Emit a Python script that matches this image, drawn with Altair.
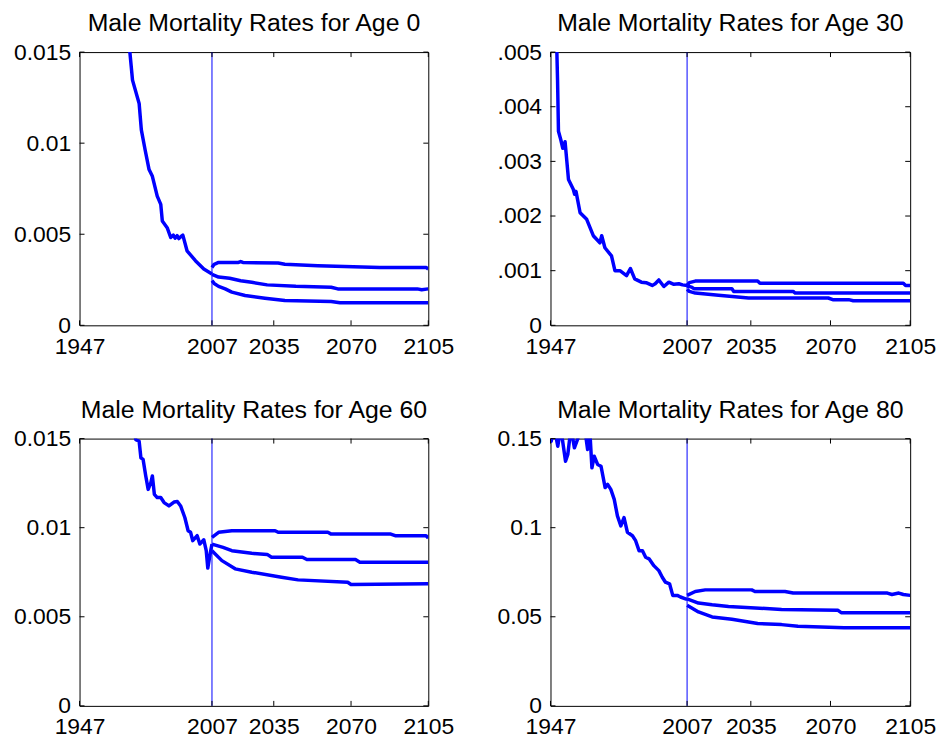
import altair as alt
import pandas as pd

FONT = "Liberation Sans"
BLUE = "#0000ff"

X_TICKS = [1947, 2007, 2035, 2070, 2105]
CUT_YEAR = [2007]

# ---------------- Age 0 ----------------
A0_TITLE = "Male Mortality Rates for Age 0"
A0_Y_TICKS = [0, 0.005, 0.01, 0.015]
A0_Y_LABELS = ["0", "0.005", "0.01", "0.015"]
A0_HIST_YEAR = [1969.0, 1969.8, 1971.0, 1974.0, 1975.0, 1976.7, 1978.5, 1980.0, 1982.2, 1983.8,
                1984.5, 1986.7, 1988.3, 1989.5, 1990.3, 1991.2, 1992.0, 1993.0, 1993.8, 1995.7,
                1999.5, 2003.3, 2007.0]
A0_HIST_RATE = [0.0160, 0.0150, 0.01346, 0.01218, 0.01073, 0.00964, 0.00855, 0.00818, 0.00709, 0.00664,
                0.00573, 0.00536, 0.00482, 0.00495, 0.00478, 0.00492, 0.00476, 0.00488, 0.00495, 0.00409,
                0.00355, 0.00309, 0.00282]
A0_UP_YEAR = [2007, 2008, 2010, 2019, 2020, 2021, 2037, 2040, 2055, 2083, 2104, 2105]
A0_UP_RATE = [0.00318, 0.00335, 0.00345, 0.00345, 0.00350, 0.00345, 0.00342, 0.00335, 0.00327, 0.00318, 0.00318, 0.00309]
A0_MED_YEAR = [2007, 2010, 2015, 2020, 2025, 2032, 2045, 2061, 2064, 2100, 2102, 2105]
A0_MED_RATE = [0.00280, 0.00265, 0.00258, 0.00245, 0.00236, 0.00222, 0.00214, 0.00209, 0.00200, 0.00200, 0.00195, 0.00200]
A0_LOW_YEAR = [2007, 2008, 2010, 2013, 2016, 2022, 2031, 2040, 2061, 2065, 2105]
A0_LOW_RATE = [0.00245, 0.00230, 0.00214, 0.00200, 0.00182, 0.00164, 0.00149, 0.00136, 0.00131, 0.00124, 0.00124]

# ---------------- Age 30 ----------------
A30_TITLE = "Male Mortality Rates for Age 30"
A30_Y_TICKS = [0, 0.001, 0.002, 0.003, 0.004, 0.005]
A30_Y_LABELS = ["0", ".001", ".002", ".003", ".004", ".005"]
A30_HIST_YEAR = [1949.0, 1949.8, 1950.1, 1950.5, 1951.5, 1952.4, 1953.0, 1953.4, 1954.9, 1957.0,
                 1957.6, 1958.2, 1960.0, 1962.9, 1965.8, 1968.7, 1969.5, 1970.9, 1973.8, 1975.3,
                 1977.5, 1980.4, 1982.1, 1984.0, 1986.9, 1989.0, 1991.7, 1993.0, 1994.6, 1996.8,
                 1999.0, 2001.2, 2003.4, 2005.0, 2007.0]
A30_HIST_RATE = [0.0090, 0.0050, 0.00449, 0.00355, 0.00340, 0.00324, 0.00330, 0.00336, 0.00267, 0.00249,
                 0.00240, 0.00245, 0.00206, 0.00194, 0.00164, 0.00151, 0.00164, 0.00142, 0.00127, 0.00100,
                 0.00100, 0.00091, 0.00104, 0.00085, 0.00079, 0.00078, 0.00073, 0.00076, 0.00083, 0.00071,
                 0.00079, 0.00075, 0.00076, 0.00074, 0.00073]
A30_UP_YEAR = [2007, 2008, 2010.6, 2038, 2039, 2102, 2103, 2105]
A30_UP_RATE = [0.00073, 0.00078, 0.00081, 0.00081, 0.00077, 0.00077, 0.00073, 0.00073]
A30_MED_YEAR = [2007, 2009, 2010, 2026.7, 2027.5, 2053.6, 2054.5, 2105]
A30_MED_RATE = [0.00072, 0.00070, 0.00067, 0.00067, 0.00062, 0.00062, 0.00059, 0.00059]
A30_LOW_YEAR = [2007, 2008, 2010.6, 2020.8, 2034, 2069, 2071, 2078, 2080, 2105]
A30_LOW_RATE = [0.00066, 0.00062, 0.00059, 0.00055, 0.00050, 0.00050, 0.00047, 0.00047, 0.00045, 0.00045]

# ---------------- Age 60 ----------------
A60_TITLE = "Male Mortality Rates for Age 60"
A60_Y_TICKS = [0, 0.005, 0.01, 0.015]
A60_Y_LABELS = ["0", "0.005", "0.01", "0.015"]
A60_HIST_YEAR = [1971.5, 1972.5, 1974.0, 1974.8, 1975.8, 1977.0, 1978.1, 1979.3, 1980.0, 1980.9,
                 1982.2, 1983.8, 1985.3, 1987.5, 1989.8, 1991.3, 1992.8, 1994.7, 1996.2, 1997.3,
                 1998.3, 2000.3, 2001.5, 2003.3, 2004.4, 2005.1, 2006.3, 2007.0]
A60_HIST_RATE = [0.0156, 0.01494, 0.01485, 0.01392, 0.01383, 0.01290, 0.01215, 0.01253, 0.01290, 0.01187,
                 0.01169, 0.01169, 0.01141, 0.01122, 0.01144, 0.01147, 0.01122, 0.01057, 0.00983, 0.00974,
                 0.00927, 0.00955, 0.00908, 0.00932, 0.00871, 0.00773, 0.00862, 0.00908]
A60_UP_YEAR = [2007, 2010, 2016, 2035.6, 2037, 2059.5, 2061, 2088, 2090, 2104, 2105]
A60_UP_RATE = [0.00946, 0.00974, 0.00983, 0.00983, 0.00974, 0.00974, 0.00964, 0.00964, 0.00955, 0.00955, 0.00942]
A60_MED_YEAR = [2007, 2012, 2016, 2025, 2032, 2034, 2048, 2050, 2072, 2074, 2105]
A60_MED_RATE = [0.00908, 0.00889, 0.00871, 0.00856, 0.00850, 0.00834, 0.00834, 0.00821, 0.00821, 0.00806, 0.00806]
A60_LOW_YEAR = [2007, 2011.5, 2017.5, 2025, 2038.5, 2046, 2068.5, 2070, 2105]
A60_LOW_RATE = [0.00871, 0.00815, 0.00769, 0.00750, 0.00722, 0.00707, 0.00694, 0.00681, 0.00685]

# ---------------- Age 80 ----------------
A80_TITLE = "Male Mortality Rates for Age 80"
A80_Y_TICKS = [0, 0.05, 0.1, 0.15]
A80_Y_LABELS = ["0", "0.05", "0.1", "0.15"]
A80_HIST_YEAR = [1947.0, 1947.3, 1948.7, 1950.2, 1951.5, 1953.6, 1954.6, 1956.0, 1957.5, 1959.0,
                 1960.5, 1962.0, 1963.3, 1964.2, 1965.2, 1966.2, 1967.7, 1969.2, 1971.0, 1972.1,
                 1973.5, 1975.0, 1976.4, 1977.9, 1979.3, 1980.8, 1983.0, 1984.4, 1985.9, 1987.4,
                 1988.8, 1990.3, 1992.4, 1994.6, 1996.1, 1997.5, 1999.3, 2000.7, 2002.7, 2004.1,
                 2006.3, 2007.0]
A80_HIST_RATE = [0.150, 0.1485, 0.156, 0.1457, 0.156, 0.1373, 0.1411, 0.156, 0.1448, 0.150,
                 0.156, 0.156, 0.1439, 0.156, 0.1336, 0.1401, 0.1355, 0.1345, 0.1225, 0.1243,
                 0.1215, 0.1159, 0.1066, 0.1010, 0.1057, 0.0974, 0.0955, 0.0927, 0.0871, 0.0871,
                 0.0834, 0.0825, 0.0787, 0.0759, 0.0722, 0.0694, 0.0685, 0.0620, 0.0620, 0.0611,
                 0.0601, 0.0598]
A80_UP_YEAR = [2007, 2010.6, 2015, 2035.4, 2036.8, 2050, 2053.6, 2095, 2097, 2100, 2102, 2105]
A80_UP_RATE = [0.0620, 0.0642, 0.0651, 0.0651, 0.0642, 0.0642, 0.0633, 0.0633, 0.0625, 0.0633, 0.0625, 0.0620]
A80_MED_YEAR = [2007, 2012, 2018, 2025.2, 2048.5, 2073.3, 2074.7, 2105]
A80_MED_RATE = [0.0601, 0.0577, 0.0567, 0.0558, 0.0541, 0.0536, 0.0523, 0.0523]
A80_LOW_YEAR = [2007, 2012, 2018, 2026.7, 2038, 2048.5, 2055.7, 2076, 2105]
A80_LOW_RATE = [0.0564, 0.0527, 0.0499, 0.0486, 0.0462, 0.0456, 0.0447, 0.0438, 0.0438]


def label_expr(values, labels):
    # map each tick value (by its index) to the text that the reference shows
    idx = "indexof([" + ",".join(str(v) for v in values) + "], datum.value)"
    arr = "[" + ",".join("'" + s + "'" for s in labels) + "]"
    return f"{arr}[{idx}]"


def panel(title, hist, up, med, low, ymax, yticks, ylabels, w, h):
    rows = []
    for name, (yrs, vals) in [("hist", hist), ("upper", up), ("median", med), ("lower", low)]:
        for yr, v in zip(yrs, vals):
            rows.append({"series": name, "year": yr, "rate": v})
    df = pd.DataFrame(rows)

    xs = alt.Scale(domain=[X_TICKS[0], X_TICKS[-1]], nice=False, zero=False)
    ys = alt.Scale(domain=[0, ymax], nice=False, zero=False)

    xaxis = alt.Axis(values=X_TICKS, format="d",
                     ticks=False, domain=False, grid=False, labelFlush=False,
                     labelOverlap=False, labelPadding=10, labelFontSize=23, labelFont=FONT,
                     labelColor="black", title=None)
    yaxis = alt.Axis(values=yticks, labelExpr=label_expr(yticks, ylabels),
                     ticks=False, domain=False, grid=False, labelFlush=False,
                     labelOverlap=False, labelPadding=9, labelFontSize=23, labelFont=FONT,
                     labelColor="black", title=None)

    cut = alt.Chart(pd.DataFrame({"year": CUT_YEAR})).mark_rule(
        color=BLUE, strokeWidth=1).encode(x=alt.X("year:Q", scale=xs, axis=xaxis))

    lines = alt.Chart(df).mark_line(color=BLUE, strokeWidth=3.5, clip=True,
                                    strokeJoin="round").encode(
        x=alt.X("year:Q", scale=xs, axis=xaxis),
        y=alt.Y("rate:Q", scale=ys, axis=yaxis),
        detail="series:N",
    )

    ydf = pd.DataFrame({"rate": yticks})
    xdf = pd.DataFrame({"year": X_TICKS})
    tl = 5
    tick_left = alt.Chart(ydf).mark_rule(color="black", strokeWidth=1).encode(
        y=alt.Y("rate:Q", scale=ys, axis=yaxis), x=alt.value(0), x2=alt.value(tl))
    tick_right = alt.Chart(ydf).mark_rule(color="black", strokeWidth=1).encode(
        y=alt.Y("rate:Q", scale=ys, axis=yaxis), x=alt.value(w - tl), x2=alt.value(w))
    tick_bottom = alt.Chart(xdf).mark_rule(color="black", strokeWidth=1).encode(
        x=alt.X("year:Q", scale=xs, axis=xaxis), y=alt.value(h - tl), y2=alt.value(h))
    tick_top = alt.Chart(xdf).mark_rule(color="black", strokeWidth=1).encode(
        x=alt.X("year:Q", scale=xs, axis=xaxis), y=alt.value(0), y2=alt.value(tl))

    return alt.layer(cut, lines, tick_left, tick_right, tick_bottom, tick_top).properties(
        width=w, height=h,
        title=alt.TitleParams(text=title, fontSize=25, font=FONT, fontWeight="normal",
                              color="black", anchor="middle", offset=5),
    )


p1 = panel(A0_TITLE, (A0_HIST_YEAR, A0_HIST_RATE), (A0_UP_YEAR, A0_UP_RATE),
           (A0_MED_YEAR, A0_MED_RATE), (A0_LOW_YEAR, A0_LOW_RATE),
           0.015, A0_Y_TICKS, A0_Y_LABELS, 351, 275)
p2 = panel(A30_TITLE, (A30_HIST_YEAR, A30_HIST_RATE), (A30_UP_YEAR, A30_UP_RATE),
           (A30_MED_YEAR, A30_MED_RATE), (A30_LOW_YEAR, A30_LOW_RATE),
           0.005, A30_Y_TICKS, A30_Y_LABELS, 362, 275)
p3 = panel(A60_TITLE, (A60_HIST_YEAR, A60_HIST_RATE), (A60_UP_YEAR, A60_UP_RATE),
           (A60_MED_YEAR, A60_MED_RATE), (A60_LOW_YEAR, A60_LOW_RATE),
           0.015, A60_Y_TICKS, A60_Y_LABELS, 351, 269)
p4 = panel(A80_TITLE, (A80_HIST_YEAR, A80_HIST_RATE), (A80_UP_YEAR, A80_UP_RATE),
           (A80_MED_YEAR, A80_MED_RATE), (A80_LOW_YEAR, A80_LOW_RATE),
           0.15, A80_Y_TICKS, A80_Y_LABELS, 362, 269)

chart = alt.concat(p1, p2, p3, p4, columns=2,
                   spacing={"row": 114, "column": 123}, bounds="flush").properties(
    padding={"left": 4, "top": 0, "right": 0, "bottom": 0},
    background="white",
).configure_view(stroke="black", strokeWidth=1, fill="white")

chart.save("out.html", embed_options={"renderer": "svg", "actions": False})
